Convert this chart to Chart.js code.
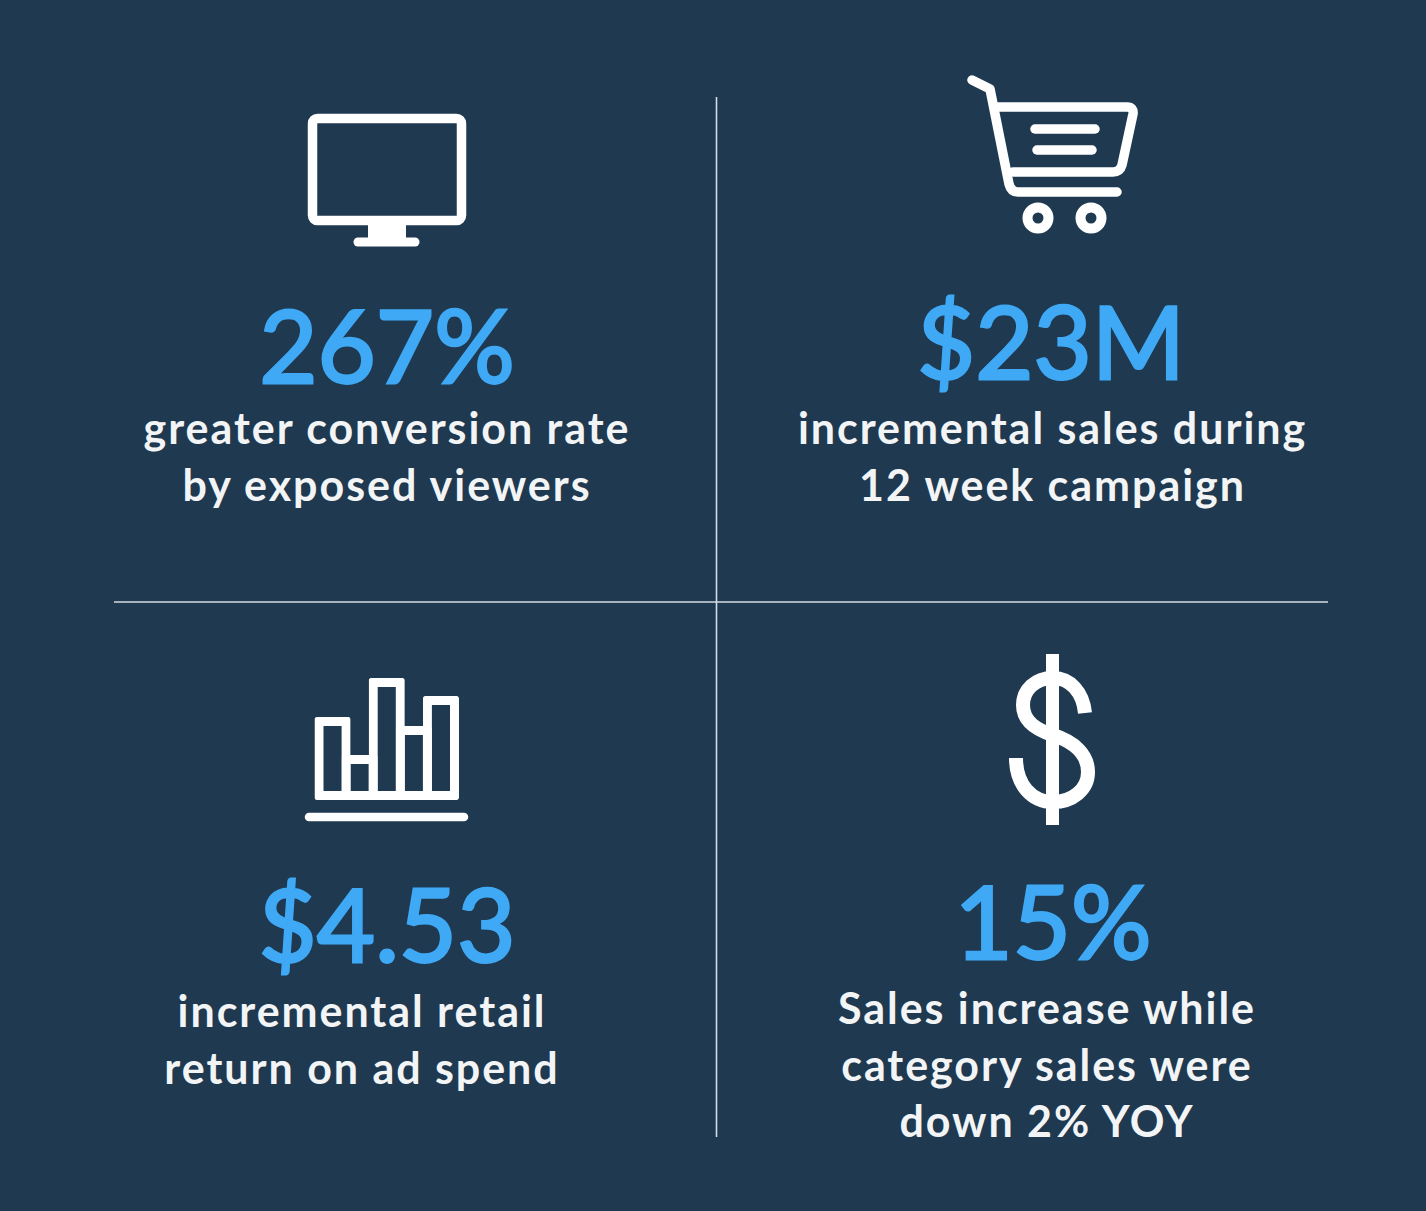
<!DOCTYPE html>
<html>
<head>
<meta charset="utf-8">
<title>Campaign results</title>
<script src="https://cdn.jsdelivr.net/npm/chart.js@4"></script>
<style>
  html, body { margin: 0; padding: 0; }
  body { width: 1426px; height: 1211px; background: #1e3950; position: relative; overflow: hidden; font-family: Lato, sans-serif; }
  .stat, .caption { position: absolute; transform: translateX(-50%); white-space: nowrap; text-align: center; }
  .stat { color: #3fa9f5; font-size: 100.5px; font-weight: 400; line-height: 104px; -webkit-text-stroke: 2.8px #3fa9f5; }
  .caption { color: #f2f4f5; font-size: 43px; font-weight: 700; line-height: 56.5px; letter-spacing: 1.95px; }
  svg.icons { position: absolute; left: 0; top: 0; }
  #barIcon { position: absolute; left: 300px; top: 670px; }
</style>
</head>
<body>
<svg class="icons" width="1426" height="1211" fill="none" stroke="#fff">
  <!-- dividers -->
  <line x1="716.5" y1="97" x2="716.5" y2="1137" stroke="#d5dce2" stroke-width="1.6"/>
  <line x1="114" y1="602" x2="1328" y2="602" stroke="#d5dce2" stroke-width="1.6"/>
  <!-- monitor -->
  <rect x="312.5" y="118.5" width="149" height="102" rx="5" stroke-width="9.5"/>
  <rect x="368" y="224" width="38" height="15" fill="#fff" stroke="none"/>
  <line x1="358" y1="242" x2="415" y2="242" stroke-width="9" stroke-linecap="round"/>
  <!-- cart -->
  <g stroke-width="9.5" stroke-linecap="round" stroke-linejoin="round">
    <path d="M972,80 L990,89 L1009,184 Q1011,192 1018,192 L1117,192"/>
    <path d="M996,107 L1127,107 Q1134,107 1133,114 L1122,165 Q1120,172 1113,172 L1013,172"/>
    <line x1="1035" y1="129" x2="1095" y2="129"/>
    <line x1="1037" y1="150" x2="1092" y2="150"/>
  </g>
  <circle cx="1038" cy="218" r="10.5" stroke-width="10"/>
  <circle cx="1091" cy="218" r="10.5" stroke-width="10"/>
  <!-- dollar -->
  <rect x="1046" y="654" width="13" height="171" fill="#fff" stroke="none"/>
  <path stroke-width="14" d="M1085,713 C1083,692 1070,678 1053,678 C1035,678 1023,690 1023,705 C1023,722 1037,730 1053,735 C1075,742 1088,755 1088,772 C1088,790 1072,802 1053,802 C1032,802 1016,785 1016,758"/>
  <!-- base line under the bar icon -->
  <line x1="309" y1="817" x2="464" y2="817" stroke-width="8.5" stroke-linecap="round"/>
</svg>

<canvas id="barIcon" width="174" height="140"></canvas>

<div id="panels"></div>

<script>
// Stat text
const statValues = ['267%', '$23M', '$4.53', '15%'];
const statCaptions = [
  ['greater conversion rate', 'by exposed viewers'],
  ['incremental sales during', '12 week campaign'],
  ['incremental retail', 'return on ad spend'],
  ['Sales increase while', 'category sales were', 'down 2% YOY']
];

// Bar icon heights
const iconBars = ['a', 'b', 'c', 'd', 'e'];
const iconHeights = [83, 45, 122, 74, 104];

// Where each panel sits on the page
const statPlaces = [[387, 292], [1051, 288], [387, 871], [1053, 868]];
const captionPlaces = [[387, 400], [1052.5, 400], [362, 983], [1047, 980]];

function displayPanels() {
  const panels = document.querySelector('#panels');
  panels.innerHTML = statValues.map((value, i) => `
    <div class="stat" style="left:${statPlaces[i][0]}px;top:${statPlaces[i][1]}px">${value}</div>
    <div class="caption" style="left:${captionPlaces[i][0]}px;top:${captionPlaces[i][1]}px">${statCaptions[i].join('<br>')}</div>
  `).join('');
}

function createBarIcon() {
  new Chart('barIcon', {
    type: 'bar',
    data: {
      labels: iconBars,
      datasets: [{
        data: iconHeights,
        backgroundColor: 'transparent',
        borderColor: '#fff',
        borderWidth: 9,
        borderSkipped: false,
        borderRadius: 2,
        barPercentage: 1.332,
        categoryPercentage: 1,
        clip: false
      }]
    },
    options: {
      responsive: false,
      animation: false,
      layout: { padding: { left: 19, right: 19.5, top: 0, bottom: 10 } },
      plugins: { legend: { display: false }, tooltip: { enabled: false } },
      scales: {
        x: { display: false },
        y: { display: false, min: 0, max: 130 }
      }
    }
  });
}

displayPanels();
createBarIcon();
</script>
</body>
</html>
